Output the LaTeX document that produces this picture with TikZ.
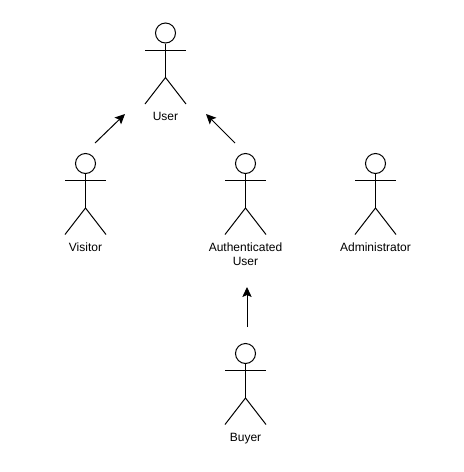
\documentclass[tikz,border=0pt]{standalone}
\usepackage{fontspec}
\setmainfont{Liberation Sans}
\usetikzlibrary{arrows.meta,calc}

\begin{document}
\begin{tikzpicture}[x=0.75pt, y=-0.75pt, font=\fontsize{9}{10.5}\selectfont,
    limb/.style={draw=black, line width=0.75pt},
    head/.style={circle, draw=black, line width=0.75pt, minimum size=15pt, inner sep=0pt},
    actorlabel/.style={align=center, anchor=north, inner sep=0pt},
    inherit/.style={draw=black, line width=0.75pt, -{Stealth[length=7.5pt, width=7pt, inset=1.5pt]}}]

    % Canvas is 464 x 472 px
    \useasboundingbox (0,0) rectangle (464,472);

    % One stick figure per actor, placed by the centre of its head
    \foreach \name/\x/\y/\txt in {user/165.5/33/User, visitor/85.5/163.5/Visitor,
        auth/245.5/163.5/{Authenticated\\User}, admin/375.5/163.5/Administrator,
        buyer/245.5/353.5/Buyer} {
        \node[head] (\name) at (\x,\y) {};
        \draw[limb] (\name.south) -- ++(0,34) coordinate (\name hip);
        \draw[limb] ($(\name)+(-20.5,17)$) -- ($(\name)+(20.5,17)$);
        \draw[limb] ($(\name hip)+(-20.5,26.5)$) -- (\name hip) -- ($(\name hip)+(20.5,26.5)$);
        \node[actorlabel] (\name label) at ($(\name)+(0,79)$) {\txt};
    }

    % Free arrow ends, the arrows do not touch the figures
    \coordinate (visitor tail) at (95,143);
    \coordinate (visitor tip) at (125,114);
    \coordinate (auth tail) at (235,143);
    \coordinate (auth tip) at (206,114);
    \coordinate (buyer tail) at (247,327);
    \coordinate (buyer tip) at (247,287);

    % Arrows
    \draw[inherit] (visitor tail) -- (visitor tip);
    \draw[inherit] (auth tail) -- (auth tip);
    \draw[inherit] (buyer tail) -- (buyer tip);
\end{tikzpicture}
\end{document}
